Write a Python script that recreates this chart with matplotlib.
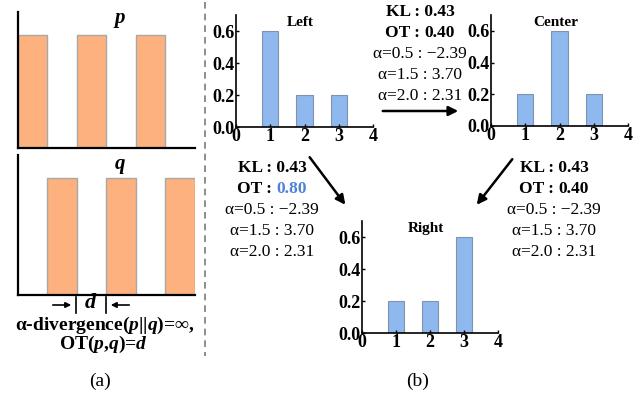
import matplotlib
matplotlib.use('Agg')
import matplotlib.pyplot as plt

plt.rcParams['font.family'] = ['Liberation Serif', 'DejaVu Serif']
plt.rcParams['mathtext.fontset'] = 'custom'
plt.rcParams['mathtext.rm'] = 'Liberation Serif:bold'
plt.rcParams['mathtext.it'] = 'Liberation Serif:italic:bold'
plt.rcParams['mathtext.bf'] = 'Liberation Serif:bold'

W, H = 641, 400

# panel (a) data
p_pos = [0.5, 2.5, 4.5]
q_pos = [1.5, 3.5, 5.5]
pq_mass = [1, 1, 1]

# panel (b) data
bins = [1, 2, 3]
left_vals = [0.6, 0.2, 0.2]
center_vals = [0.2, 0.6, 0.2]
right_vals = [0.2, 0.2, 0.6]
yticks = [0.0, 0.2, 0.4, 0.6]
xticks = [0, 1, 2, 3, 4]

kl_val = '0.43'
ot_lc, ot_lr, ot_cr = '0.40', '0.80', '0.40'
alpha_lines = ['α=0.5 : −2.39', 'α=1.5 : 3.70', 'α=2.0 : 2.31']

orange = '#fcb17f'
blue = '#8fb8ef'


def box(l, t, r, b):
    return [l / W, 1 - b / H, (r - l) / W, (b - t) / H]


fig = plt.figure(figsize=(W / 100, H / 100), dpi=100)

# ---- panel (a)
for rect, pos in [((18, 12, 195, 148), p_pos), ((18, 155, 195, 295), q_pos)]:
    ax = fig.add_axes(box(*rect))
    ax.bar(pos, pq_mass, width=1.0, color=orange, edgecolor='#a8a8a8', linewidth=1)
    ax.set_xlim(0, 6)
    ax.set_ylim(0, 1.2)
    ax.set_xticks([])
    ax.set_yticks([])
    for s in ['top', 'right']:
        ax.spines[s].set_visible(False)
    for s in ['left', 'bottom']:
        ax.spines[s].set_linewidth(1.6)

# ---- panel (b) bar charts
charts = [((236, 15, 373, 127), left_vals, 'Left'),
          ((491, 15, 628, 126), center_vals, 'Center'),
          ((362, 221, 498, 333), right_vals, 'Right')]
for rect, vals, title in charts:
    ax = fig.add_axes(box(*rect))
    ax.bar(bins, vals, width=0.48, color=blue, edgecolor='#7f93ad', linewidth=0.8)
    ax.set_xlim(0, 4)
    ax.set_ylim(0, 0.7)
    ax.set_xticks(xticks)
    ax.set_yticks(yticks)
    ax.set_xticklabels([str(v) for v in xticks], fontsize=13, fontweight='bold')
    ax.set_yticklabels(['%.1f' % v for v in yticks], fontsize=13, fontweight='bold')
    ax.tick_params(direction='in', length=2.5, width=1, pad=1)
    for s in ['top', 'right']:
        ax.spines[s].set_visible(False)
    for s in ['left', 'bottom']:
        ax.spines[s].set_linewidth(1.2)
    ax.text(0.47, 0.93, title, transform=ax.transAxes, ha='center', va='center',
            fontsize=11, fontweight='bold')

# ---- overlay in pixel coordinates
ov = fig.add_axes([0, 0, 1, 1])
ov.set_xlim(0, W)
ov.set_ylim(H, 0)
ov.axis('off')

ov.plot([205, 205], [2, 356], color='#7a7a7a', lw=1.2, ls=(0, (4, 3)))

ov.text(120, 20, '$p$', ha='center', va='center', fontsize=15)
ov.text(120, 166, '$q$', ha='center', va='center', fontsize=15)
ov.plot([76, 76], [297, 313], color='k', lw=1.2)
ov.plot([106, 106], [297, 313], color='k', lw=1.2)
arw = dict(arrowstyle='-|>', color='k', lw=1.2, mutation_scale=8)
ov.annotate('', xy=(74, 305), xytext=(50, 305), arrowprops=arw)
ov.annotate('', xy=(108, 305), xytext=(132, 305), arrowprops=arw)
ov.text(91, 304, '$d$', ha='center', va='center', fontsize=16)
ov.text(105, 325, 'α-divergence($p$||$q$)=∞,', ha='center', va='center',
        fontsize=14, fontweight='bold')
ov.text(103, 344, 'OT($p$,$q$)=$d$', ha='center', va='center',
        fontsize=14, fontweight='bold')
ov.text(100, 381, '(a)', ha='center', va='center', fontsize=14)
ov.text(418, 381, '(b)', ha='center', va='center', fontsize=14)

renderer = fig.canvas.get_renderer()


def stats(cx, y0, ot, ot_color='k'):
    ov.text(cx, y0, 'KL : ' + kl_val, ha='center', va='center', fontsize=12.5, fontweight='bold')
    # measure the whole OT line so the two coloured parts stay centred
    probe = ov.text(cx, y0 + 21, 'OT : ' + ot, ha='center', va='center', fontsize=12.5,
                    fontweight='bold')
    full = probe.get_window_extent(renderer).width
    probe.remove()
    tail = ov.text(0, 0, ot, fontsize=12.5, fontweight='bold')
    tw = tail.get_window_extent(renderer).width
    tail.remove()
    split = cx + full / 2 - tw
    ov.text(split, y0 + 21, 'OT : ', ha='right', va='center', fontsize=12.5, fontweight='bold')
    ov.text(split, y0 + 21, ot, ha='left', va='center', fontsize=12.5, fontweight='bold',
            color=ot_color)
    for i, s in enumerate(alpha_lines):
        ov.text(cx, y0 + 42 + 21 * i, s, ha='center', va='center', fontsize=12.5)


stats(420, 12, ot_lc)
stats(272, 168, ot_lr, '#4f82d6')
stats(554, 168, ot_cr)

big = dict(arrowstyle='-|>', color='k', lw=1.8, mutation_scale=14)
ov.annotate('', xy=(461, 111), xytext=(380, 111), arrowprops=big)
ov.annotate('', xy=(347, 207), xytext=(308, 155), arrowprops=big)
ov.annotate('', xy=(475, 207), xytext=(514, 157), arrowprops=big)

fig.savefig('out.png', dpi=100)
